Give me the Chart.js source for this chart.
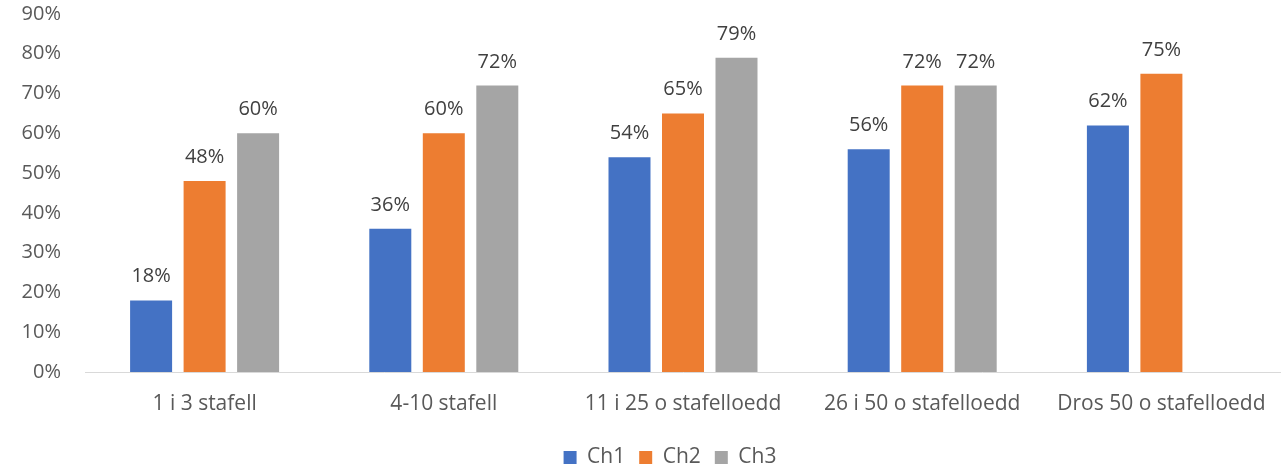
<!DOCTYPE html>
<html>
<head>
<meta charset="utf-8">
<script src="https://cdn.jsdelivr.net/npm/chart.js@4"></script>
<style>
  html, body { margin: 0; padding: 0; background: #fff; }
  #wrap { width: 1281px; height: 468px; }
</style>
</head>
<body>
<div id="wrap"><canvas id="chart" width="1281" height="468"></canvas></div>
<script>
const categories = ['1 i 3 stafell', '4-10 stafell', '11 i 25 o stafelloedd', '26 i 50 o stafelloedd', 'Dros 50 o stafelloedd'];
const ch1 = [18, 36, 54, 56, 62];
const ch2 = [48, 60, 65, 72, 75];
const ch3 = [60, 72, 79, 72, null];
const seriesNames = ['Ch1', 'Ch2', 'Ch3'];
const yTicks = [0, 10, 20, 30, 40, 50, 60, 70, 80, 90];

const FONT = "'Open Sans', 'Liberation Sans', sans-serif";

// Etiquetas de valor em cima das barras
const valueLabels = {
  id: 'valueLabels',
  afterDatasetsDraw(chart) {
    const ctx = chart.ctx;
    ctx.save();
    ctx.font = '20px ' + FONT;
    ctx.fillStyle = '#404040';
    ctx.textAlign = 'center';
    ctx.textBaseline = 'alphabetic';
    chart.data.datasets.forEach((ds, i) => {
      chart.getDatasetMeta(i).data.forEach((bar, j) => {
        const v = ds.data[j];
        if (v === null || v === undefined) return;
        ctx.fillText(v + '%', bar.x, bar.y - 18);
      });
    });
    ctx.restore();
  }
};

// Legenda centrada um pouco à direita, como no original
const shiftLegend = {
  id: 'shiftLegend',
  afterLayout(chart) {
    if (chart.legend) chart.legend.left += 50;
  }
};

new Chart(document.getElementById('chart'), {
  type: 'bar',
  data: {
    labels: categories,
    datasets: [
      { label: seriesNames[0], data: ch1, backgroundColor: '#4472C4' },
      { label: seriesNames[1], data: ch2, backgroundColor: '#ED7D31' },
      { label: seriesNames[2], data: ch3, backgroundColor: '#A5A5A5' }
    ]
  },
  options: {
    responsive: false,
    animation: false,
    layout: { padding: { left: 0, right: -9, top: 0, bottom: -10 } },
    datasets: { bar: { categoryPercentage: 0.671, barPercentage: 0.785 } },
    plugins: {
      legend: {
        position: 'bottom',
        labels: {
          boxWidth: 13, boxHeight: 13, padding: 14,
          color: '#595959', font: { family: FONT, size: 21 }
        }
      },
      tooltip: { enabled: false }
    },
    scales: {
      x: {
        grid: { display: false, drawTicks: false },
        border: { display: true, color: '#D9D9D9', width: 1 },
        ticks: { color: '#595959', font: { family: FONT, size: 21 }, padding: 19 },
        afterFit: axis => { axis.height = 61; axis.paddingLeft = 0; axis.paddingRight = 0; }
      },
      y: {
        min: 0, max: 90,
        afterBuildTicks: axis => { axis.ticks = yTicks.map(v => ({ value: v })); },
        afterFit: axis => { axis.width = 85; axis.paddingTop = 14; axis.paddingBottom = 0; },
        grid: { display: false, drawTicks: false },
        border: { display: false },
        ticks: {
          color: '#595959', font: { family: FONT, size: 20 }, padding: 24,
          callback: v => v + '%'
        }
      }
    }
  },
  plugins: [valueLabels, shiftLegend]
});
</script>
</body>
</html>
